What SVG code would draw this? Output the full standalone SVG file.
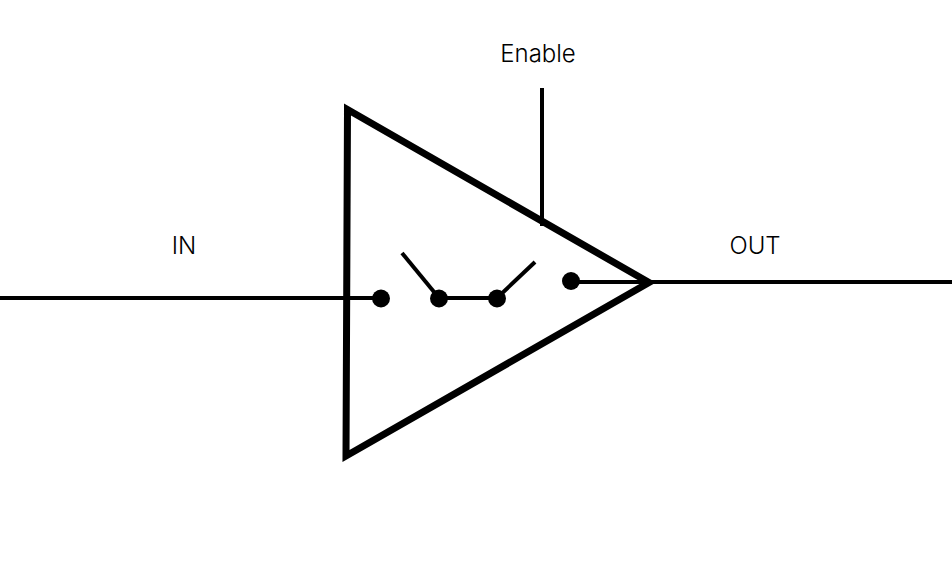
<svg xmlns="http://www.w3.org/2000/svg" width="952" height="567" viewBox="0 0 952 567">
<style>
.w{fill:none;stroke:#000;stroke-width:4}
.t{fill:none;stroke:#000;stroke-width:7}
.s{fill:none;stroke:#000;stroke-width:4}
.d{fill:#000}
text{font-family:Inter,"Liberation Sans",sans-serif;font-size:24px;font-weight:350;fill:#000;text-anchor:middle}
</style>
<rect width="952" height="567" fill="#fff"/>
<g id="connectors">
<path class="w" d="M0 298H381"/>
<path class="w" d="M571 282H952"/>
<path class="w" d="M542 88V226"/>
<path class="w" d="M439 298H497"/>
<path class="s" d="M402 253L439 298"/>
<path class="s" d="M535 262L497 298"/>
</g>
<g id="buffer"><path class="t" d="M347.500 109.500L649 282.500L346 456Z"/></g>
<g id="c1"><circle class="d" cx="381" cy="298.500" r="9"/></g>
<g id="c2"><circle class="d" cx="439" cy="298.500" r="9"/></g>
<g id="c3"><circle class="d" cx="497" cy="298.500" r="9"/></g>
<g id="c4"><circle class="d" cx="571" cy="281" r="9"/></g>
<g id="label-enable"><text x="538" y="62">Enable</text></g>
<g id="label-in"><text x="184" y="254">IN</text></g>
<g id="label-out"><text x="755" y="254">OUT</text></g>
</svg>
